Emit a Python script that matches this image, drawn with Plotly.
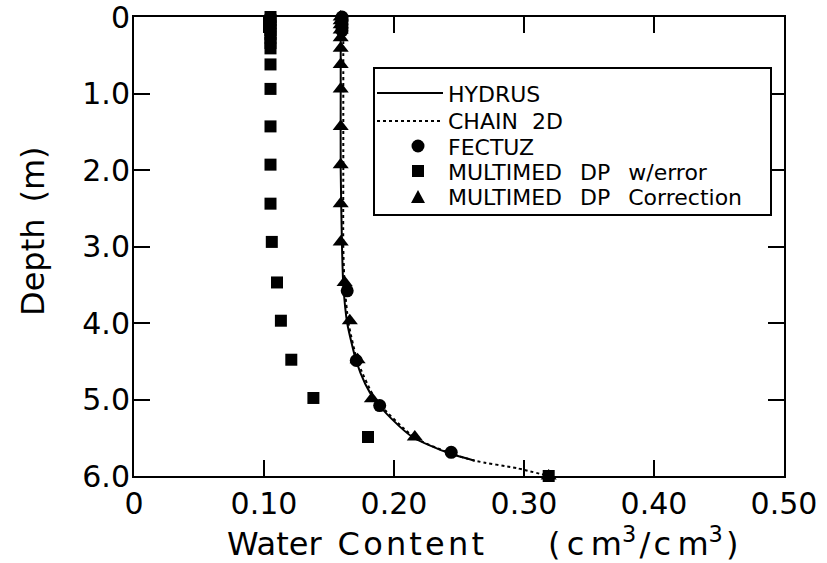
import plotly.graph_objects as go

# ---------------- data ----------------
hydrus_depth = [0, 1.0, 2.0, 3.0, 3.5, 4.0, 4.5, 4.8, 5.0, 5.25, 5.5, 5.7, 5.8]
hydrus_wc = [0.159, 0.159, 0.159, 0.160, 0.161, 0.164, 0.171, 0.178, 0.185, 0.198, 0.215, 0.242, 0.262]

chain_depth = [0, 1.0, 2.0, 3.0, 3.5, 4.0, 4.5, 5.0, 5.5, 5.7, 5.8, 5.9, 6.0]
chain_wc = [0.161, 0.161, 0.161, 0.161, 0.162, 0.165, 0.172, 0.186, 0.216, 0.243, 0.262, 0.295, 0.319]

fectuz_depth = [0, 0.03, 0.06, 0.10, 0.14, 0.18, 3.58, 4.49, 5.08, 5.69]
fectuz_wc = [0.160, 0.160, 0.160, 0.160, 0.160, 0.160, 0.164, 0.171, 0.189, 0.244]

mdp_err_depth = [0, 0.04, 0.08, 0.12, 0.17, 0.22, 0.27, 0.34, 0.41, 0.62, 0.94, 1.43, 1.93,
                 2.44, 2.94, 3.47, 3.97, 4.48, 4.98, 5.49, 6.0]
mdp_err_wc = [0.105, 0.105, 0.105, 0.105, 0.105, 0.105, 0.105, 0.105, 0.105, 0.105, 0.105,
              0.105, 0.105, 0.105, 0.106, 0.110, 0.113, 0.121, 0.138, 0.180, 0.319]

mdp_cor_depth = [0, 0.05, 0.10, 0.17, 0.27, 0.41, 0.62, 0.94, 1.43, 1.93, 2.44, 2.94,
                 3.47, 3.97, 4.48, 4.99, 5.49, 6.0]
mdp_cor_wc = [0.159, 0.159, 0.159, 0.159, 0.159, 0.159, 0.159, 0.159, 0.159, 0.159, 0.159,
              0.159, 0.162, 0.166, 0.172, 0.183, 0.216, 0.319]

x_ticks = [0, 0.1, 0.2, 0.3, 0.4, 0.5]
x_tick_labels = ["0", "0.10", "0.20", "0.30", "0.40", "0.50"]
y_ticks = [0, 1, 2, 3, 4, 5, 6]
y_tick_labels = ["0", "1.0", "2.0", "3.0", "4.0", "5.0", "6.0"]

series_names = ["HYDRUS", "CHAIN\u00a0\u00a02D", "FECTUZ",
                "MULTIMED\u2002\u00a0DP\u2002\u00a0w/error",
                "MULTIMED\u2002\u00a0DP\u2002\u00a0Correction"]

FONT = "DejaVu Sans"

# plot-area geometry (pixels) used to place the hand-built legend box
W, H = 827, 563
L, R, T, B = 134, 43, 17, 87
PW, PH = W - L - R, H - T - B


def px(x):
    return (x - L) / PW


def py(y):
    return (H - B - y) / PH


fig = go.Figure()
fig.add_trace(go.Scatter(x=hydrus_wc, y=hydrus_depth, mode="lines", name=series_names[0],
                         line=dict(color="black", width=2, shape="spline", smoothing=0.6),
                         cliponaxis=False))
fig.add_trace(go.Scatter(x=chain_wc, y=chain_depth, mode="lines", name=series_names[1],
                         line=dict(color="black", width=2, dash="dot", shape="spline", smoothing=0.6),
                         cliponaxis=False))
fig.add_trace(go.Scatter(x=fectuz_wc, y=fectuz_depth, mode="markers", name=series_names[2],
                         marker=dict(symbol="circle", size=13, color="black"),
                         cliponaxis=False))
fig.add_trace(go.Scatter(x=mdp_err_wc, y=mdp_err_depth, mode="markers", name=series_names[3],
                         marker=dict(symbol="square", size=12, color="black"),
                         cliponaxis=False))
fig.add_trace(go.Scatter(x=mdp_cor_wc, y=mdp_cor_depth, mode="markers", name=series_names[4],
                         marker=dict(symbol="triangle-up", size=14, color="black"),
                         cliponaxis=False))

axis_common = dict(showline=True, linecolor="black", linewidth=2, mirror="ticks",
                   ticks="inside", ticklen=16, tickwidth=2, tickcolor="black",
                   showgrid=False, zeroline=False, ticklabeloverflow="allow",
                   automargin=False,
                   tickfont=dict(family=FONT, size=30, color="black"))

fig.update_xaxes(range=[0, 0.5], tickvals=x_ticks, ticktext=x_tick_labels, **axis_common)
fig.update_yaxes(range=[6.0, 0], tickvals=y_ticks, ticktext=y_tick_labels,
                 ticklabelstandoff=-4, **axis_common)

hs = "\u200a"
fig.add_annotation(
    text="Water\u2002" + hs.join("Content") +
         "\u2003\u2003(\u2009c\u2009m<sup>3</sup>" + hs + "/" + hs + "c\u2009m<sup>3</sup>" + hs + ")",
    xref="paper", yref="paper", x=px(483), y=py(542),
    xanchor="center", yanchor="middle", showarrow=False,
    font=dict(family=FONT, size=32, color="black"))
fig.add_annotation(text="Depth\u2002(m)", textangle=-90,
                   xref="paper", yref="paper", x=px(33), y=py(231),
                   xanchor="center", yanchor="middle", showarrow=False,
                   font=dict(family=FONT, size=32, color="black"))

# ---------------- legend (hand-built) ----------------
shapes = []
shapes.append(dict(type="rect", xref="paper", yref="paper",
                   x0=px(374), x1=px(771), y0=py(68), y1=py(215),
                   line=dict(color="black", width=2), fillcolor="white", layer="above"))
legend_rows = [93, 121, 146, 171, 197]
shapes.append(dict(type="line", xref="paper", yref="paper",
                   x0=px(377), x1=px(443), y0=py(legend_rows[0]), y1=py(legend_rows[0]),
                   line=dict(color="black", width=2), layer="above"))
shapes.append(dict(type="line", xref="paper", yref="paper",
                   x0=px(377), x1=px(443), y0=py(legend_rows[1]), y1=py(legend_rows[1]),
                   line=dict(color="black", width=2, dash="dot"), layer="above"))
mx = 418
shapes.append(dict(type="circle", xref="paper", yref="paper",
                   x0=px(mx - 6.5), x1=px(mx + 6.5),
                   y0=py(legend_rows[2] - 6.5), y1=py(legend_rows[2] + 6.5),
                   line=dict(color="black", width=0), fillcolor="black", layer="above"))
shapes.append(dict(type="rect", xref="paper", yref="paper",
                   x0=px(mx - 6), x1=px(mx + 6),
                   y0=py(legend_rows[3] - 6), y1=py(legend_rows[3] + 6),
                   line=dict(color="black", width=0), fillcolor="black", layer="above"))
ty = legend_rows[4]
shapes.append(dict(type="path", xref="paper", yref="paper",
                   path=f"M {px(mx):.5f},{py(ty - 7):.5f} L {px(mx + 7):.5f},{py(ty + 6):.5f} "
                        f"L {px(mx - 7):.5f},{py(ty + 6):.5f} Z",
                   line=dict(color="black", width=0), fillcolor="black", layer="above"))

for name, row in zip(series_names, legend_rows):
    fig.add_annotation(text=name, xref="paper", yref="paper", x=px(446), y=py(row + 1),
                       xanchor="left", yanchor="middle", showarrow=False,
                       font=dict(family=FONT, size=22, color="black"))

fig.update_layout(
    width=W, height=H,
    margin=dict(l=L, r=R, t=T, b=B),
    paper_bgcolor="white", plot_bgcolor="white",
    showlegend=False,
    shapes=shapes,
)

fig.write_html("out.html")
